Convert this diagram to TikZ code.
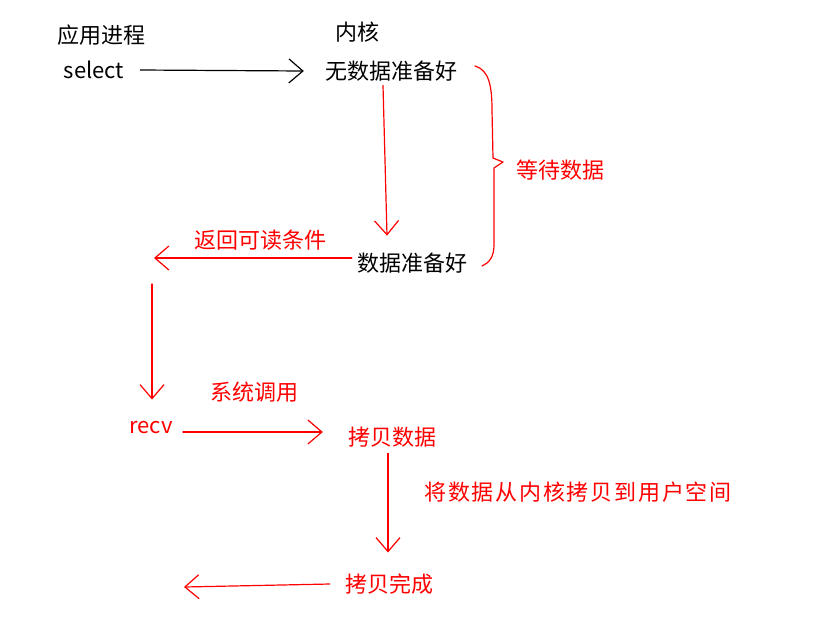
\documentclass[tikz,border=0pt]{standalone}
\usepackage{fontspec}
\setmainfont{Noto Sans CJK SC}
\usetikzlibrary{arrows.meta}
\begin{document}
\begin{tikzpicture}[x=1pt, y=-1pt, line join=round, line cap=round,
	every node/.style={inner sep=0pt, font=\fontsize{22}{26}\selectfont},
	hand/.style={line width=1.2pt, -{Straight Barb[length=14pt, width=24pt]}},
	note/.style={text=red}]
	\useasboundingbox (0,0) rectangle (830,625);
	% application side / kernel side
	\node (app) at (101,35) {应用进程};
	\node (kernel) at (357,32) {内核};
	\node (select) at (94,70) {select};
	\node (nodata) at (391,71) {无数据准备好};
	\node (ready) at (412,263) {数据准备好};
	\coordinate (back) at (154,258);
	\node[note] (ret) at (260,240) {返回可读条件};
	\node[note] (wait) at (560,170) {等待数据};
	\node[note] (sys) at (254,392) {系统调用};
	\node[note] (recv) at (151,428) {recv};
	\node[note] (copy) at (392,437) {拷贝数据};
	\node[note] (move) at (578,492) {\addfontfeature{LetterSpace=8}将数据从内核拷贝到用户空间};
	\node[note] (done) at (389,584) {拷贝完成};
	\coordinate (out) at (184,587);
	% connectors
	\draw[hand] ([xshift=16pt]select.east) -- ([xshift=-21pt]nodata.west);
	\draw[hand, red] ([shift={(-8,4)}]nodata.south) -- ([shift={(-25,-17)}]ready.north);
	\draw[hand, red] ([shift={(-5,-5)}]ready.west) -- (back);
	\draw[hand, red] ([shift={(-2,26)}]back) -- ([shift={(1,-22)}]recv.north);
	\draw[hand, red] ([xshift=10pt, yshift=-4pt]recv.east) -- ([xshift=-25pt, yshift=5pt]copy.west);
	\draw[hand, red] ([shift={(-4,6)}]copy.south) -- ([shift={(-1,-21)}]done.north);
	\draw[hand, red] ([xshift=-15pt]done.west) -- (out);
	% brace
	\draw[red, line width=1.2pt] (475,66) .. controls (489,70) and (492,86) .. (492,110)
		-- (493,158) -- (503,162) -- (494,168) -- (494,245)
		.. controls (494,257) and (489,263) .. (482,266);
\end{tikzpicture}
\end{document}
